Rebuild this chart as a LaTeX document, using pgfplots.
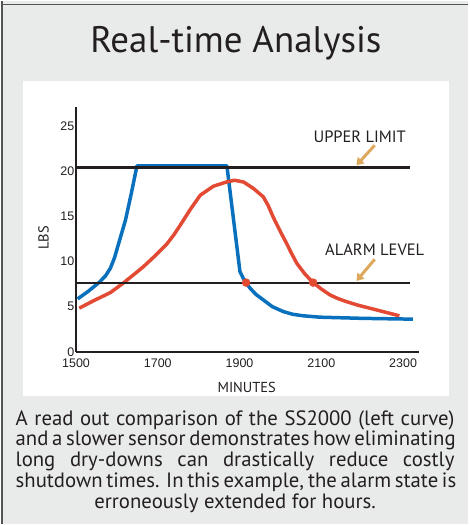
\documentclass[border=0pt]{standalone}
\usepackage{fontspec}
\setmainfont{PT Sans}
\newfontfamily\tickfont{Liberation Sans}
\usepackage{pgfplots}
\pgfplotsset{compat=1.18}
\usetikzlibrary{arrows.meta}
\definecolor{bggray}{RGB}{233,235,234}
\definecolor{framegray}{RGB}{85,85,85}
\definecolor{sblue}{RGB}{8,112,188}
\definecolor{sred}{RGB}{226,74,52}
\definecolor{atan}{RGB}{222,168,92}
\definecolor{txt}{RGB}{35,31,32}
\begin{document}
\begin{tikzpicture}[x=1pt,y=1pt]
\fill[bggray] (0,0) rectangle (469,525);
\draw[framegray,line width=1.5pt] (0,521) -- (469,521);
\draw[framegray,line width=1.5pt] (1.5,0) -- (1.5,525);
\fill[white] (22,129) rectangle (450,445);
\node[anchor=base,inner sep=0pt,font=\fontsize{37}{40}\selectfont,text=txt] at (235.8,473.3) {Real-time Analysis};
\begin{axis}[
  at={(75.5pt,173pt)}, anchor=south west,
  scale only axis, width=344.4pt, height=245.3pt,
  xmin=1500, xmax=2340, ymin=0, ymax=27.1,
  axis lines=left,
  axis line style={-, line width=1.7pt, txt},
  major tick length=0pt,
  xtick={1500,1700,1900,2100,2300},
  ytick={0,5,10,15,20,25},
  /pgf/number format/assume math mode=true,
  /pgf/number format/set thousands separator={},
  ticklabel style={font=\tickfont\fontsize{12.5}{12.5}\selectfont, text=txt},
  xticklabel style={inner sep=0pt, yshift=-7pt},
  yticklabel style={inner sep=0pt, xshift=-1.5pt},
  xlabel={MINUTES}, ylabel={LBS},
  xlabel style={at={(axis description cs:0.497,-0.1457)}, anchor=center, font=\fontsize{14.5}{14.5}\selectfont, text=txt},
  ylabel style={at={(axis description cs:-0.0943,0.465)}, anchor=center, rotate=0, font=\fontsize{14.5}{14.5}\selectfont, text=txt},
  clip=false,
]
% SS2000 (blue)
\addplot[sblue, line width=3.5pt, line join=round] coordinates {
(1504,5.86)(1530,6.7)(1556,7.66)(1572,8.4)(1584,9.25)(1594,10.4)(1602,11.64)(1612,13.2)(1621,14.59)(1635,17.5)(1649,20.59)
(1869,20.59)(1901,8.87)(1909,8.14)(1916,7.6)(1926,7.03)(1940,6.35)(1958,5.75)(1980,5.0)(2007,4.45)(2030,4.15)(2056,3.98)(2096,3.83)(2200,3.7)(2324,3.61)
};
% slower sensor (red)
\addplot[sred, line width=3.5pt, line join=round] coordinates {
(1508,4.83)(1545,5.7)(1584,6.55)(1617,7.66)(1640,8.5)(1665,9.43)(1695,10.7)(1722,11.93)(1740,13.0)(1755,14.03)(1780,15.8)(1804,17.35)(1836,18.34)(1869,18.82)(1888,19.0)(1910,18.8)(1934,18.09)(1958,17.16)(1970,16.2)(1982,14.95)(2000,13.3)(2015,12.0)(2027,10.9)(2040,9.8)(2060,8.6)(2080,7.66)(2100,6.95)(2121,6.3)(2140,5.9)(2161,5.56)(2190,5.15)(2218,4.83)(2255,4.4)(2291,3.98)
};
% upper limit and alarm level
\addplot[txt, line width=2.3pt] coordinates {(1500,20.4)(2317.6,20.4)};
\addplot[txt, line width=2.1pt] coordinates {(1500,7.66)(2317.6,7.66)};
% crossing points
\addplot[only marks, mark=*, mark size=4pt, sred] coordinates {(1916,7.66)(2080,7.66)};
\node[font=\fontsize{16.5}{16.5}\selectfont, text=txt] at (axis cs:2193.9,23.87) {UPPER LIMIT};
\node[font=\fontsize{16.5}{16.5}\selectfont, text=txt] at (axis cs:2230.5,11.27) {ALARM LEVEL};
\draw[atan, line width=3pt, -{Triangle[length=7pt,width=9pt]}] (axis cs:2230.5,22.87) -- (axis cs:2185.9,20.66);
\draw[atan, line width=3pt, -{Triangle[length=7pt,width=9pt]}] (axis cs:2230.5,10.24) -- (axis cs:2185.9,7.84);
\end{axis}
\begin{scope}[every node/.style={anchor=base, inner sep=0pt, font=\fontsize{20.8}{21}\selectfont, text=txt}]
\node at (235,99.3) {\makebox[440pt][s]{A read out comparison of the SS2000 (left curve)}};
\node at (235,78.5) {\makebox[440pt][s]{and a slower sensor demonstrates how eliminating}};
\node at (235,57.7) {\makebox[440pt][s]{long dry-downs can drastically reduce costly}};
\node at (235,36.9) {\makebox[440pt][s]{shutdown times. In this example, the alarm state is}};
\node at (235,16.1) {erroneously extended for hours.};
\end{scope}
\end{tikzpicture}
\end{document}
